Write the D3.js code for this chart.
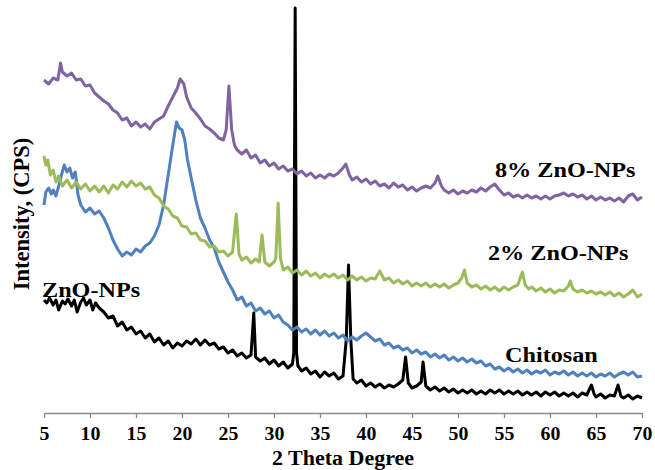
<!DOCTYPE html>
<html>
<head>
<meta charset="utf-8">
<script src="https://cdn.jsdelivr.net/npm/d3@7"></script>
<style>
  body { margin: 0; background: #fff; }
  text { font-family: "Liberation Serif", "Times New Roman", serif; font-weight: bold; fill: #000; }
</style>
</head>
<body>
<div id="chart"></div>
<script>
// 2 theta (deg) vs intensity (arbitrary CPS units)
const znoNps = [
  [5.0,113],[5.3,110],[5.6,115],[6.0,108],[6.3,113],[6.6,103],[7.0,112],[7.3,109],[7.6,114],[8.0,107],
  [8.3,113],[8.6,101],[9.0,111],[9.3,115],[9.6,108],[10.0,113],[10.3,103],[10.6,110],[11.0,105],[11.5,101],
  [12.0,95],[12.5,97],[13.0,87],[13.5,91],[14.0,83],[14.5,86],[15.0,79],[15.5,82],[16.0,75],[16.5,79],
  [17.0,71],[17.5,75],[18.0,68],[18.5,72],[19.0,65],[19.5,70],[20.0,67],[20.5,72],[21.0,69],[21.5,74],
  [22.0,68],[22.5,73],[23.0,68],[23.5,70],[24.0,64],[24.5,66],[25.0,60],[25.5,63],[26.0,57],[26.5,60],
  [27.0,55],[27.5,58],[27.8,100],[28.0,56],[28.5,52],[29.0,55],[29.5,49],[30.0,53],[30.5,47],[31.0,51],
  [31.5,45],[32.0,49],[32.15,60],[32.3,405],[32.45,60],[32.6,47],[33.0,42],[33.5,45],[34.0,39],[34.5,42],
  [35.0,36],[35.5,41],[36.0,37],[36.5,40],[37.0,34],[37.5,37],[37.85,73],[38.1,148],[38.35,73],[38.6,34],
  [39.0,30],[39.5,33],[40.0,27],[40.5,30],[41.0,26],[41.5,29],[42.0,25],[42.5,28],[43.0,26],[43.5,29],
  [44.0,33],[44.3,56],[44.6,30],[45.0,25],[45.5,27],[46.0,31],[46.2,51],[46.5,27],[47.0,23],[47.5,26],
  [48.0,22],[48.5,25],[49.0,21],[49.5,24],[50.0,20],[50.5,23],[51.0,20],[51.5,23],[52.0,19],[52.5,22],
  [53.0,19],[53.5,23],[54.0,20],[54.5,23],[55.0,19],[55.5,22],[56.0,19],[56.5,22],[57.0,18],[57.5,21],
  [58.0,18],[58.5,21],[59.0,17],[59.5,21],[60.0,18],[60.5,21],[61.0,17],[61.5,20],[62.0,17],[62.5,20],
  [63.0,16],[63.5,20],[64.0,18],[64.5,28],[64.8,19],[65.0,16],[65.5,19],[66.0,15],[66.5,18],[67.0,17],
  [67.4,28],[67.7,17],[68.0,15],[68.5,18],[69.0,14],[69.5,17],[70.0,15]
];

const chitosan = [
  [5.0,208],[5.2,221],[5.5,225],[5.8,219],[6.0,223],[6.3,217],[6.6,227],[6.9,238],[7.2,248],[7.5,241],
  [7.8,245],[8.1,235],[8.4,241],[8.7,218],[9.0,208],[9.5,201],[10.0,205],[10.5,199],[11.0,202],[11.5,195],
  [12.0,185],[12.5,173],[13.0,164],[13.5,157],[14.0,161],[14.5,158],[15.0,164],[15.5,161],[16.0,167],[16.5,170],
  [17.0,177],[17.5,188],[18.0,208],[18.5,238],[19.0,268],[19.4,291],[19.7,285],[20.0,283],[20.3,273],[20.6,253],
  [21.0,235],[21.5,213],[22.0,195],[22.5,185],[23.0,173],[23.5,165],[24.0,151],[24.5,141],[25.0,131],[25.5,123],
  [26.0,113],[26.5,116],[27.0,107],[27.5,110],[28.0,102],[28.5,105],[29.0,99],[29.5,102],[30.0,95],[30.5,98],
  [31.0,91],[31.5,88],[32.0,83],[32.5,86],[33.0,81],[33.5,84],[34.0,79],[34.5,83],[35.0,78],[35.5,82],
  [36.0,77],[36.5,80],[37.0,75],[37.5,78],[38.0,72],[38.5,76],[39.0,73],[39.5,77],[40.0,80],[40.5,76],
  [41.0,72],[41.5,74],[42.0,68],[42.5,70],[43.0,65],[43.5,67],[44.0,63],[44.5,65],[45.0,60],[45.5,63],
  [46.0,59],[46.5,61],[47.0,56],[47.5,59],[48.0,55],[48.5,58],[49.0,53],[49.5,56],[50.0,52],[50.5,55],
  [51.0,51],[51.5,54],[52.0,50],[52.5,52],[53.0,47],[53.5,49],[54.0,44],[54.5,46],[55.0,42],[55.5,45],
  [56.0,41],[56.5,44],[57.0,40],[57.5,43],[58.0,39],[58.5,42],[59.0,40],[59.5,43],[60.0,38],[60.5,41],
  [61.0,39],[61.5,42],[62.0,38],[62.5,41],[63.0,37],[63.5,40],[64.0,37],[64.5,40],[65.0,36],[65.5,39],
  [66.0,37],[66.5,40],[67.0,36],[67.5,39],[68.0,41],[68.5,38],[69.0,41],[69.5,36],[70.0,37]
];

const zno2 = [
  [5.0,257],[5.2,248],[5.4,253],[5.7,238],[6.0,243],[6.3,231],[6.6,237],[7.0,227],[7.5,233],[8.0,225],
  [8.5,231],[9.0,224],[9.5,229],[10.0,222],[10.5,227],[11.0,221],[11.5,227],[12.0,220],[12.5,228],[13.0,224],
  [13.5,231],[14.0,226],[14.5,232],[15.0,227],[15.5,230],[16.0,224],[16.5,226],[17.0,218],[17.5,215],[18.0,207],
  [18.5,204],[19.0,197],[19.5,195],[20.0,187],[20.5,186],[21.0,179],[21.5,180],[22.0,173],[22.5,172],[23.0,166],
  [23.5,167],[24.0,161],[24.5,162],[25.0,157],[25.5,161],[25.9,199],[26.2,159],[26.5,153],[27.0,156],[27.5,150],
  [28.0,154],[28.4,151],[28.7,178],[29.0,151],[29.5,147],[30.0,151],[30.2,155],[30.45,210],[30.7,155],[31.0,143],
  [31.5,146],[32.0,140],[32.5,143],[33.0,138],[33.5,142],[34.0,137],[34.5,140],[35.0,135],[35.5,139],[36.0,136],
  [36.5,139],[37.0,135],[37.5,138],[38.0,133],[38.5,137],[39.0,133],[39.5,136],[40.0,132],[40.5,135],[41.0,134],
  [41.5,142],[42.0,133],[42.5,135],[43.0,130],[43.5,133],[44.0,129],[44.5,132],[45.0,127],[45.5,130],[46.0,127],
  [46.5,130],[47.0,126],[47.5,129],[48.0,126],[48.5,129],[49.0,125],[49.5,128],[50.0,130],[50.4,135],[50.7,143],
  [51.0,130],[51.5,126],[52.0,128],[52.5,124],[53.0,127],[53.5,123],[54.0,126],[54.5,122],[55.0,126],[55.5,123],
  [56.0,126],[56.5,128],[57.0,141],[57.3,128],[57.7,124],[58.0,126],[58.5,122],[59.0,125],[59.5,121],[60.0,124],
  [60.5,120],[61.0,123],[61.5,122],[62.0,127],[62.2,132],[62.5,124],[63.0,121],[63.5,123],[64.0,120],[64.5,122],
  [65.0,119],[65.5,121],[66.0,118],[66.5,121],[67.0,117],[67.5,120],[68.0,116],[68.5,119],[69.0,123],[69.5,116],
  [70.0,119]
];

const zno8 = [
  [5.0,333],[5.5,329],[6.0,335],[6.5,333],[6.8,350],[7.0,341],[7.5,337],[8.0,340],[8.5,333],[9.0,334],
  [9.5,327],[10.0,328],[10.5,320],[11.0,316],[11.5,312],[12.0,309],[12.5,303],[13.0,300],[13.5,293],[14.0,295],
  [14.5,287],[15.0,291],[15.5,286],[16.0,289],[16.5,284],[17.0,291],[17.5,294],[18.0,297],[18.5,307],[19.0,316],
  [19.5,325],[19.8,334],[20.2,329],[20.5,316],[21.0,305],[21.5,300],[22.0,294],[22.5,287],[23.0,284],[23.5,280],
  [24.0,275],[24.5,273],[24.8,283],[25.1,327],[25.4,283],[25.7,268],[26.0,263],[26.5,259],[27.0,263],[27.5,255],
  [28.0,258],[28.5,250],[29.0,253],[29.5,247],[30.0,250],[30.5,244],[31.0,247],[31.5,242],[32.0,244],[32.5,239],
  [33.0,242],[33.5,237],[34.0,240],[34.5,235],[35.0,238],[35.5,235],[36.0,239],[36.5,237],[37.0,240],[37.5,245],
  [37.8,249],[38.2,238],[38.5,233],[39.0,236],[39.5,231],[40.0,234],[40.5,229],[41.0,232],[41.5,227],[42.0,229],
  [42.5,225],[43.0,230],[43.5,226],[44.0,228],[44.5,223],[45.0,226],[45.5,222],[46.0,225],[46.5,227],[47.0,225],
  [47.5,230],[47.8,237],[48.2,227],[48.5,223],[49.0,220],[49.5,223],[50.0,219],[50.5,222],[51.0,220],[51.5,223],
  [52.0,221],[52.5,225],[53.0,222],[53.5,226],[54.0,229],[54.5,223],[55.0,218],[55.5,220],[56.0,216],[56.5,218],
  [57.0,215],[57.5,218],[58.0,215],[58.5,217],[59.0,214],[59.5,217],[60.0,214],[60.5,217],[61.0,218],[61.5,220],
  [62.0,217],[62.5,219],[63.0,216],[63.5,218],[64.0,214],[64.5,217],[65.0,213],[65.5,216],[66.0,213],[66.5,215],
  [67.0,212],[67.5,215],[68.0,211],[68.5,217],[69.0,219],[69.5,213],[70.0,216]
];

const seriesNames = ["ZnO-NPs", "Chitosan", "2% ZnO-NPs", "8% ZnO-NPs"];
const seriesColors = ["#000000", "#4f81bd", "#9bbb59", "#8064a2"];
const xTicks = [5, 10, 15, 20, 25, 30, 35, 40, 45, 50, 55, 60, 65, 70];

const width = 655, height = 470;
const stretch = 1.1; // text in the picture is a little wider than plain Times

const svg = d3.select("#chart").append("svg")
    .attr("width", width)
    .attr("height", height);

svg.append("rect").attr("width", width).attr("height", height).attr("fill", "#fff");

const x = d3.scaleLinear().domain([5, 70]).range([44, 642]);
const y = d3.scaleLinear().domain([0, 405]).range([413, 8]);

// series, first drawn sits underneath
const allSeries = [znoNps, chitosan, zno2, zno8];
const line = d3.line()
    .x(d => x(d[0]))
    .y(d => y(d[1]));

svg.append("g")
  .selectAll("path")
  .data(allSeries)
  .enter().append("path")
    .attr("d", line)
    .attr("fill", "none")
    .attr("stroke", (d, i) => seriesColors[i])
    .attr("stroke-width", 3)
    .attr("stroke-linejoin", "round");

// x axis
const xAxis = d3.axisBottom(x)
    .tickValues(xTicks)
    .tickSize(5)
    .tickSizeOuter(0)
    .tickFormat(d3.format("d"));

const ax = svg.append("g")
    .attr("transform", "translate(0,413)")
    .call(xAxis);

ax.select(".domain").attr("stroke", "#8a8a8a").attr("stroke-width", 1.3);
ax.selectAll(".tick line").attr("stroke", "#8a8a8a").attr("stroke-width", 1.3);
ax.selectAll(".tick text")
    .attr("y", 27)
    .attr("dy", 0)
    .attr("transform", `scale(${stretch},1)`)
    .attr("font-family", "Liberation Serif")
    .attr("font-weight", "bold")
    .attr("font-size", 18)
    .attr("fill", "#000");

// axis titles
svg.append("text")
    .attr("transform", `translate(343,465) scale(${stretch},1)`)
    .attr("text-anchor", "middle")
    .attr("font-size", 20)
    .text("2 Theta Degree");

svg.append("text")
    .attr("transform", "translate(29,214) rotate(-90)")
    .attr("text-anchor", "middle")
    .attr("font-size", 22.5)
    .text("Intensity, (CPS)");

// series labels
const labelPos = [[42, 297], [505, 362], [488, 260], [495, 177]];
svg.append("g")
  .selectAll("text")
  .data(seriesNames)
  .enter().append("text")
    .attr("transform", (d, i) => `translate(${labelPos[i][0]},${labelPos[i][1]}) scale(${stretch},1)`)
    .attr("font-size", 22)
    .text(d => d);
</script>
</body>
</html>
